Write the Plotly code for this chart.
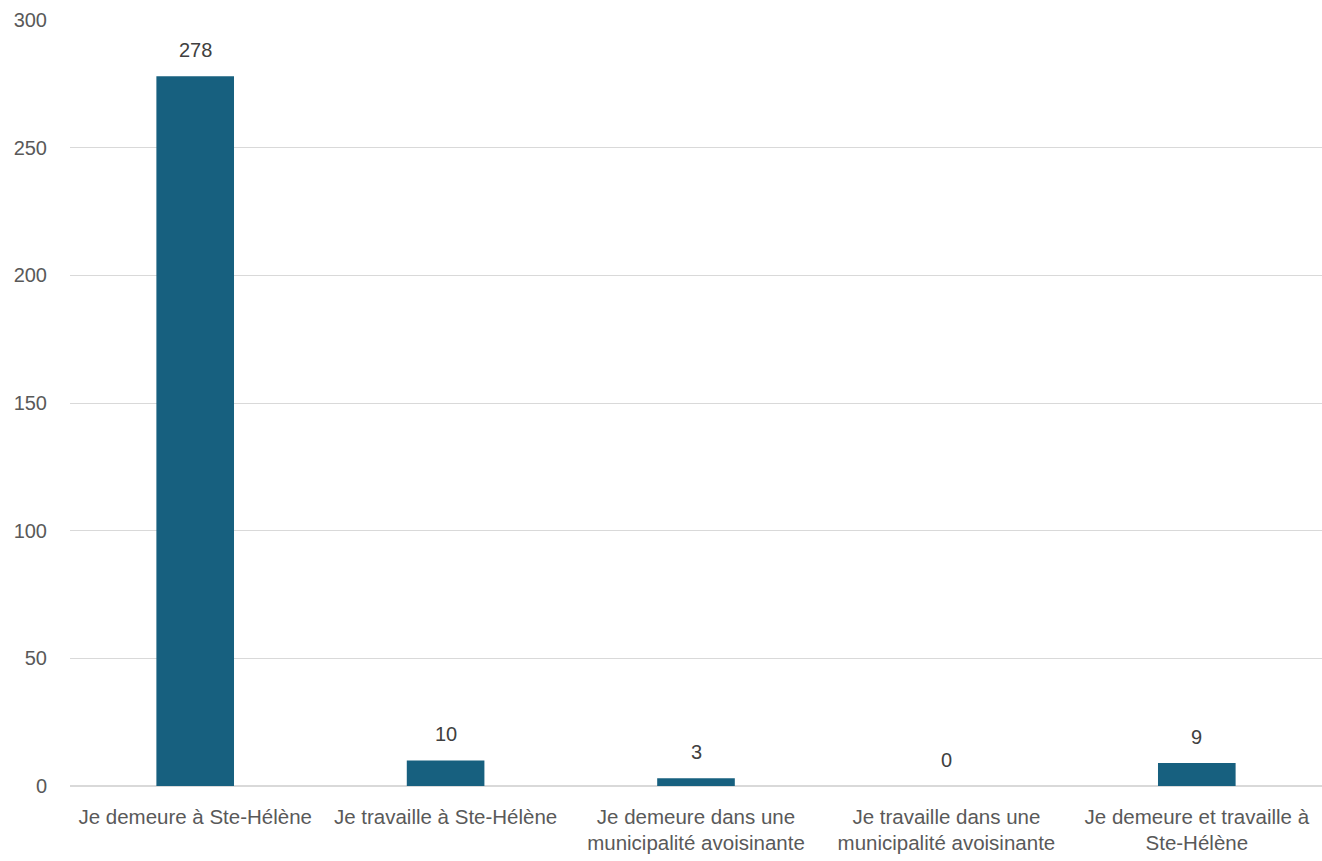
import plotly.graph_objects as go

categories = [
    "Je demeure à Ste-Hélène",
    "Je travaille à Ste-Hélène",
    "Je demeure dans une<br>municipalité avoisinante",
    "Je travaille dans une<br>municipalité avoisinante",
    "Je demeure et travaille à<br>Ste-Hélène",
]
values = [278, 10, 3, 0, 9]
y_ticks = [0, 50, 100, 150, 200, 250, 300]

label_font = dict(family="Liberation Sans, Arial, sans-serif", size=20, color="#404040")

fig = go.Figure(
    go.Bar(
        x=categories,
        y=values,
        marker=dict(color="#17607f", line=dict(width=0)),
        hoverinfo="x+y",
    )
)

# value labels sit a little above each bar
for cat, val in zip(categories, values):
    fig.add_annotation(
        x=cat, y=val, text=str(val),
        showarrow=False, yanchor="bottom", yshift=13,
        font=label_font,
    )

fig.update_layout(
    width=1322,
    height=861,
    margin=dict(l=70, r=0, t=20, b=75),
    paper_bgcolor="white",
    plot_bgcolor="white",
    bargap=0.69,
    showlegend=False,
)
fig.update_xaxes(
    tickfont=dict(family="Liberation Sans, Arial, sans-serif", size=20.5, color="#595959"),
    showgrid=False,
    showline=False,
    ticks="",
    tickangle=0,
    ticklabelstandoff=16,
)
fig.update_yaxes(
    range=[0, 300],
    tickvals=y_ticks,
    tickfont=dict(family="Liberation Sans, Arial, sans-serif", size=20, color="#595959"),
    showgrid=True,
    gridcolor="#d9d9d9",
    gridwidth=1,
    zeroline=True,
    zerolinecolor="#d9d9d9",
    zerolinewidth=1.5,
    ticks="",
    ticklabelstandoff=22,
)

fig.write_html("out.html")
